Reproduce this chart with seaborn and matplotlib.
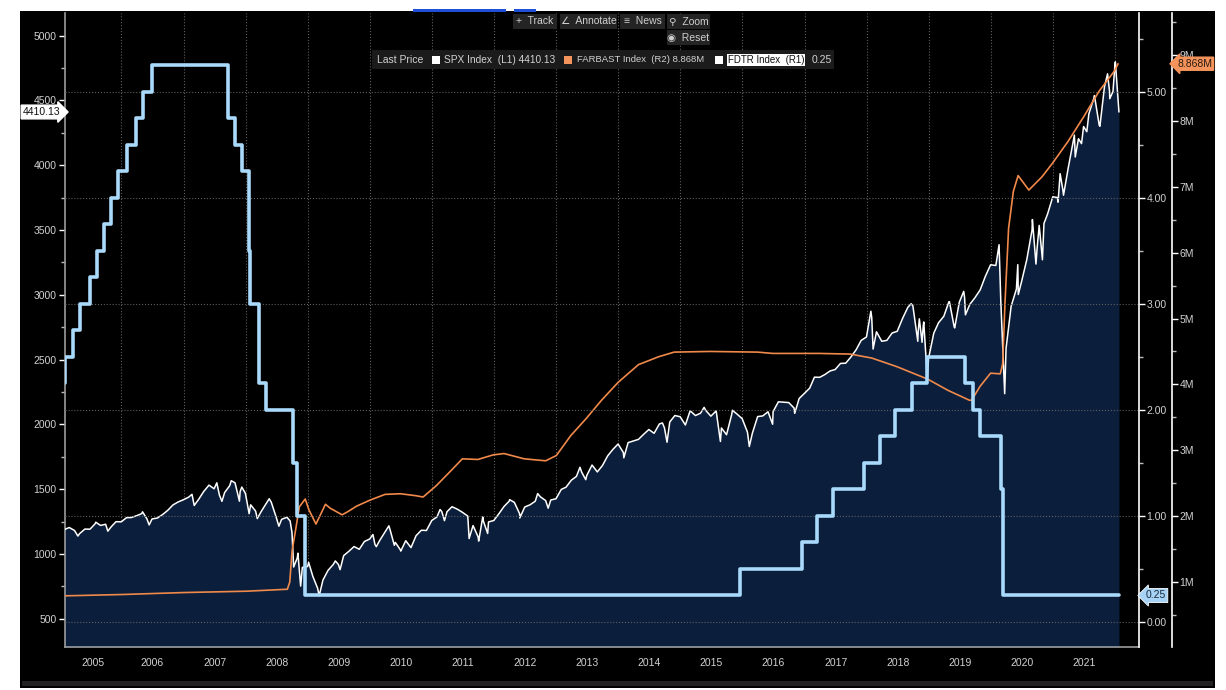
import matplotlib
matplotlib.use('Agg')
import matplotlib.pyplot as plt
import matplotlib.dates as mdates
import matplotlib.ticker as mticker
import matplotlib.transforms as mtransforms
from matplotlib.patches import Rectangle
import numpy as np
import pandas as pd
import seaborn as sns

sns.set_theme(style='dark')
plt.rcParams['font.family'] = ['Liberation Sans', 'DejaVu Sans']

# ---------------- data ----------------
# SPX month-end closes, Feb 2005 .. Dec 2021
spx_monthly = [
    1204, 1181, 1157, 1192, 1191, 1234, 1220, 1229, 1207, 1249, 1248,
    1280, 1281, 1295, 1311, 1270, 1270, 1277, 1304, 1336, 1378, 1401, 1418,
    1438, 1407, 1421, 1482, 1531, 1503, 1455, 1474, 1527, 1549, 1481, 1468,
    1379, 1331, 1323, 1386, 1400, 1280, 1267, 1283, 1166, 969, 896, 903,
    826, 735, 798, 873, 919, 919, 987, 1021, 1057, 1036, 1096, 1115,
    1074, 1104, 1169, 1187, 1089, 1031, 1102, 1049, 1141, 1183, 1181, 1258,
    1286, 1327, 1326, 1364, 1345, 1321, 1292, 1219, 1131, 1253, 1247, 1258,
    1312, 1366, 1408, 1398, 1310, 1362, 1379, 1407, 1441, 1412, 1416, 1426,
    1498, 1515, 1569, 1598, 1631, 1606, 1686, 1633, 1682, 1757, 1806, 1848,
    1783, 1859, 1872, 1884, 1924, 1960, 1931, 2003, 1972, 2018, 2068, 2059,
    1995, 2105, 2068, 2086, 2107, 2063, 2104, 1972, 1920, 2079, 2080, 2044,
    1940, 1932, 2060, 2065, 2097, 2099, 2174, 2171, 2168, 2126, 2199, 2239,
    2279, 2364, 2363, 2384, 2412, 2423, 2470, 2472, 2519, 2575, 2648, 2674,
    2824, 2714, 2641, 2648, 2705, 2718, 2816, 2902, 2914, 2712, 2760, 2507,
    2704, 2784, 2834, 2946, 2752, 2942, 2980, 2926, 2977, 3038, 3141, 3231,
    3226, 2954, 2585, 2912, 3044, 3100, 3271, 3500, 3363, 3270, 3622, 3756,
    3714, 3811, 3973, 4181, 4204, 4298, 4395, 4523, 4308, 4605, 4567, 4766,
]
spx_monthly_dates = pd.date_range('2005-02-28', '2021-12-31', freq='ME')

# intra-month highs / lows
spx_extra_dates = [
    '2005-02-01', '2005-04-20', '2005-08-03', '2005-10-13', '2006-05-05', '2006-06-13',
    '2007-02-20', '2007-03-05', '2007-07-16', '2007-08-15', '2007-10-09', '2007-11-26',
    '2007-12-10', '2008-01-22', '2008-03-10', '2008-05-19', '2008-07-15', '2008-09-19',
    '2008-10-10', '2008-11-04', '2008-11-20', '2009-01-06', '2009-03-09', '2009-06-12',
    '2009-07-10', '2010-01-19', '2010-02-08', '2010-04-23', '2010-05-25', '2010-07-02',
    '2011-02-18', '2011-03-16', '2011-04-29', '2011-08-08', '2011-10-03', '2011-10-27',
    '2011-11-25', '2012-04-02', '2012-06-01', '2012-09-14', '2012-11-15', '2013-05-21',
    '2013-06-24', '2014-02-03', '2014-09-18', '2014-10-15', '2015-05-21', '2015-08-25',
    '2015-11-03', '2016-02-11', '2016-06-27', '2016-11-04', '2018-01-26', '2018-02-08',
    '2018-09-20', '2018-10-29', '2018-11-07', '2018-11-23', '2018-12-03', '2018-12-24',
    '2019-05-03', '2019-06-03', '2019-07-26', '2019-08-05', '2020-02-19', '2020-03-23',
    '2020-06-08', '2020-06-11', '2020-09-02', '2020-09-23', '2020-10-12', '2020-11-09',
    '2021-01-27', '2021-02-12', '2021-03-04', '2021-05-07', '2021-05-12', '2021-06-18',
    '2021-07-19', '2021-09-02', '2021-10-04', '2021-11-18', '2021-12-01', '2021-12-20',
    '2022-01-03', '2022-01-24',
]
spx_extra_vals = [
    1189, 1138, 1245, 1176, 1325, 1224,
    1460, 1374, 1549, 1406, 1565, 1407,
    1516, 1311, 1273, 1426, 1214, 1255,
    899, 1006, 752, 935, 677, 946,
    879, 1150, 1056, 1217, 1067, 1022,
    1343, 1257, 1364, 1119, 1099, 1285,
    1158, 1419, 1278, 1466, 1353, 1669,
    1573, 1742, 2011, 1862, 2131, 1868,
    2109, 1829, 2001, 2085, 2873, 2581,
    2931, 2641, 2814, 2633, 2790, 2351,
    2946, 2744, 3026, 2845, 3386, 2237,
    3232, 3002, 3580, 3237, 3535, 3550,
    3750, 3934, 3768, 4232, 4063, 4166,
    4258, 4537, 4300, 4705, 4513, 4568,
    4797, 4410.13,
]

# Fed balance sheet total assets (FARBAST), in M (million of $mn)
fb_dates = [
    '2005-02-02', '2006-01-04', '2007-01-03', '2008-01-02', '2008-09-03', '2008-09-17',
    '2008-10-01', '2008-10-22', '2008-11-12', '2008-12-17', '2009-01-07', '2009-02-18',
    '2009-04-15', '2009-05-13', '2009-06-10', '2009-07-22', '2009-08-26', '2009-10-14',
    '2009-12-30', '2010-03-31', '2010-06-30', '2010-09-29', '2010-11-10', '2011-01-26',
    '2011-04-27', '2011-06-29', '2011-09-28', '2011-12-28', '2012-02-29', '2012-06-27',
    '2012-10-31', '2013-01-02', '2013-03-27', '2013-06-26', '2013-09-25', '2013-12-31',
    '2014-04-30', '2014-08-27', '2014-11-26', '2015-06-24', '2016-03-30', '2016-06-29',
    '2017-03-29', '2017-09-27', '2018-01-31', '2018-06-27', '2018-12-26', '2019-04-24',
    '2019-08-28', '2019-09-11', '2019-10-30', '2019-12-31', '2020-02-26', '2020-03-11',
    '2020-03-25', '2020-04-15', '2020-05-13', '2020-06-10', '2020-08-12', '2020-10-28',
    '2020-12-30', '2021-03-31', '2021-06-30', '2021-09-29', '2021-12-29', '2022-01-19',
]
fb_vals = [
    0.79, 0.81, 0.84, 0.86, 0.89, 1.00,
    1.48, 1.80, 2.14, 2.26, 2.10, 1.88,
    2.18, 2.12, 2.08, 2.02, 2.07, 2.15,
    2.24, 2.33, 2.34, 2.31, 2.29, 2.46,
    2.70, 2.87, 2.86, 2.93, 2.95, 2.87,
    2.84, 2.92, 3.22, 3.48, 3.76, 4.03,
    4.30, 4.42, 4.49, 4.50, 4.49, 4.47,
    4.47, 4.46, 4.40, 4.27, 4.08, 3.91,
    3.76, 3.76, 3.97, 4.17, 4.16, 4.31,
    5.25, 6.37, 6.93, 7.17, 6.95, 7.15,
    7.36, 7.69, 8.06, 8.45, 8.76, 8.868,
]

# Fed funds target upper bound (FDTR)
fd_dates = [
    '2005-02-01', '2005-02-02', '2005-03-22', '2005-05-03', '2005-06-30', '2005-08-09',
    '2005-09-20', '2005-11-01', '2005-12-13', '2006-01-31', '2006-03-28', '2006-05-10',
    '2006-06-29', '2007-09-18', '2007-10-31', '2007-12-11', '2008-01-22', '2008-01-30',
    '2008-03-18', '2008-04-30', '2008-10-08', '2008-10-29', '2008-12-16', '2015-12-17',
    '2016-12-15', '2017-03-16', '2017-06-15', '2017-12-14', '2018-03-22', '2018-06-14',
    '2018-09-27', '2018-12-20', '2019-08-01', '2019-09-19', '2019-10-31', '2020-03-04',
    '2020-03-16', '2022-01-24',
]
fd_vals = [
    2.25, 2.50, 2.75, 3.00, 3.25, 3.50,
    3.75, 4.00, 4.25, 4.50, 4.75, 5.00,
    5.25, 4.75, 4.50, 4.25, 3.50, 3.00,
    2.25, 2.00, 1.50, 1.00, 0.25, 0.50,
    0.75, 1.00, 1.25, 1.50, 1.75, 2.00,
    2.25, 2.50, 2.25, 2.00, 1.75, 1.25,
    0.25, 0.25,
]

years = list(range(2005, 2022))

spx = pd.concat([
    pd.Series(spx_monthly, index=spx_monthly_dates),
    pd.Series(spx_extra_vals, index=pd.to_datetime(spx_extra_dates)),
]).sort_index()
spx_df = pd.DataFrame({'date': spx.index, 'value': spx.values})
fb_df = pd.DataFrame({'date': pd.to_datetime(fb_dates), 'value': fb_vals})
fd_df = pd.DataFrame({'date': pd.to_datetime(fd_dates), 'value': fd_vals})

spx_last = spx_df['value'].iloc[-1]
fb_last = fb_df['value'].iloc[-1]
fd_last = fd_df['value'].iloc[-1]

# ---------------- figure ----------------
W, H = 1226, 690
fig = plt.figure(figsize=(W / 100, H / 100), dpi=100, facecolor='white')


def fx(px):
    return px / W


def fy(py):
    return 1 - py / H


fig.add_artist(Rectangle((fx(20), fy(688)), fx(1215) - fx(20), fy(11) - fy(688),
                         transform=fig.transFigure, fc='black', ec='none', zorder=-10))
fig.add_artist(Rectangle((fx(22), fy(686)), fx(1213) - fx(22), fy(681) - fy(686),
                         transform=fig.transFigure, fc='#222222', ec='none', zorder=-9))

ax = fig.add_axes([fx(65), fy(647), fx(1139) - fx(65), fy(13) - fy(647)])
ax.set_facecolor('black')

navy = '#0b1f3d'
white_line = '#ffffff'
orange = '#f0894a'
blue = '#a9d9fb'
grid_c = '#5e5e5e'
lab_c = '#d2d2d2'

# SPX area + line (left axis)
ax.fill_between(spx_df['date'], 0, spx_df['value'], color=navy, lw=0, zorder=1)
sns.lineplot(data=spx_df, x='date', y='value', ax=ax, color=white_line, lw=1.1,
             estimator=None, sort=False, zorder=3)

xmin, xmax = pd.Timestamp('2005-02-03'), pd.Timestamp('2022-05-22')
ax.set_xlim(xmin, xmax)
ax.set_ylim(282, 5174)
ax.set_xlabel('')
ax.set_ylabel('')

ax.yaxis.set_major_locator(mticker.MultipleLocator(500))
ax.yaxis.set_minor_locator(mticker.MultipleLocator(250))
ax.yaxis.set_major_formatter(mticker.FuncFormatter(lambda v, p: f'{v:.0f}'))
ax.tick_params(axis='y', which='major', direction='out', length=4, width=1,
               color='white', labelcolor=lab_c, labelsize=7.5, pad=2)
ax.tick_params(axis='y', which='minor', direction='out', length=3, width=1, color='#bbbbbb')

ax.xaxis.set_major_locator(mdates.YearLocator())
ax.xaxis.set_major_formatter(mticker.NullFormatter())
ax.xaxis.set_minor_locator(mdates.MonthLocator(bymonth=[4, 7, 10]))
ax.tick_params(axis='x', which='major', direction='out', length=19.5, width=1.2,
               color='#8a8a8a')
ax.tick_params(axis='x', which='minor', direction='out', length=2.5, width=1,
               color='#cfcfcf')
ax.grid(axis='x', which='major', color=grid_c, ls=':', lw=0.8)
ax.grid(axis='y', visible=False)

for s in ['top', 'right']:
    ax.spines[s].set_visible(False)
for s in ['left', 'bottom']:
    ax.spines[s].set_visible(True)
    ax.spines[s].set_color('#9c9c9c')
    ax.spines[s].set_linewidth(1.2)

trans_x = mtransforms.blended_transform_factory(ax.transData, ax.transAxes)
for yr in years:
    x0 = max(pd.Timestamp(f'{yr}-01-01'), xmin)
    x1 = pd.Timestamp(f'{yr + 1}-01-01')
    mid = mdates.date2num(x0) + (mdates.date2num(x1) - mdates.date2num(x0)) / 2
    ax.text(mid, -0.026, str(yr), transform=trans_x, ha='center', va='center',
            fontsize=7.5, color=lab_c)

# FARBAST (second right axis, offset)
ax_fb = ax.twinx()
sns.lineplot(data=fb_df, x='date', y='value', ax=ax_fb, color=orange, lw=1.2,
             estimator=None, sort=False)
ax_fb.set_ylim(0.0133, 9.638)
ax_fb.set_ylabel('')
ax_fb.spines['right'].set_position(('axes', 1 + 33 / 1074))
ax_fb.yaxis.set_major_locator(mticker.MultipleLocator(1))
ax_fb.yaxis.set_minor_locator(mticker.MultipleLocator(0.5))
ax_fb.yaxis.set_major_formatter(mticker.FuncFormatter(lambda v, p: f'{v:.0f}M'))
ax_fb.tick_params(axis='y', which='major', direction='out', length=4, width=1,
                  color='white', labelcolor=lab_c, labelsize=7.5, pad=1.5)
ax_fb.tick_params(axis='y', which='minor', direction='out', length=3, width=1, color='#bbbbbb')
ax_fb.grid(False)

# FDTR (first right axis)
ax_fd = ax.twinx()
sns.lineplot(data=fd_df, x='date', y='value', ax=ax_fd, color=blue, lw=2.6,
             estimator=None, sort=False, drawstyle='steps-post', zorder=4)
ax_fd.set_ylim(-0.236, 5.745)
ax_fd.set_ylabel('')
ax_fd.yaxis.set_major_locator(mticker.MultipleLocator(1))
ax_fd.yaxis.set_minor_locator(mticker.MultipleLocator(0.5))
ax_fd.yaxis.set_major_formatter(mticker.FuncFormatter(lambda v, p: f'{v:.2f}'))
ax_fd.tick_params(axis='y', which='major', direction='out', length=4, width=1,
                  color='white', labelcolor=lab_c, labelsize=7.5, pad=1.5)
ax_fd.tick_params(axis='y', which='minor', direction='out', length=3, width=1, color='#bbbbbb')
ax_fd.grid(axis='y', which='major', color=grid_c, ls=':', lw=0.8)
ax_fd.set_xlim(xmin, xmax)

for a in (ax_fb, ax_fd):
    for s in ['top', 'left', 'bottom']:
        a.spines[s].set_visible(False)
    a.spines['right'].set_visible(True)
    a.spines['right'].set_color('white')
    a.spines['right'].set_linewidth(1.2)
    a.patch.set_visible(False)

# last-value tags
ax.text(-0.004, spx_last, f'{spx_last:.2f}',
        transform=mtransforms.blended_transform_factory(ax.transAxes, ax.transData),
        ha='right', va='center', fontsize=7.5, color='#111111',
        bbox=dict(boxstyle='rarrow,pad=0.18', fc='white', ec='white'))
ax_fd.text(1.006, fd_last, f'{fd_last:.2f}',
           transform=mtransforms.blended_transform_factory(ax_fd.transAxes, ax_fd.transData),
           ha='left', va='center', fontsize=7.5, color='#1a2a3a',
           bbox=dict(boxstyle='larrow,pad=0.2', fc='#a6d3f6', ec='white', lw=0.6))
ax_fb.text(1 + 38 / 1074, fb_last, f'{fb_last:.3f}M',
           transform=mtransforms.blended_transform_factory(ax_fb.transAxes, ax_fb.transData),
           ha='left', va='center', fontsize=7.5, color='#2a1a10',
           bbox=dict(boxstyle='larrow,pad=0.15', fc='#f4935b', ec='#f4935b'))

# ---------------- terminal chrome: tabs, toolbar, legend ----------------
for x0, x1 in [(413, 506), (514, 536)]:
    fig.add_artist(Rectangle((fx(x0), fy(12)), fx(x1) - fx(x0), fy(9) - fy(12),
                             transform=fig.transFigure, fc='#1f4fd6', ec='none'))

buttons = [('+  Track', 513, 557, 14, 29), ('∠  Annotate', 560, 617, 14, 29),
           ('≡  News', 620, 665, 14, 29), ('⚲  Zoom', 667, 710, 14, 29),
           ('◉  Reset', 667, 710, 30, 45)]
for label, x0, x1, y0, y1 in buttons:
    fig.add_artist(Rectangle((fx(x0), fy(y1)), fx(x1) - fx(x0), fy(y0) - fy(y1),
                             transform=fig.transFigure, fc='#242424', ec='none', zorder=5))
    fig.text(fx((x0 + x1) / 2), fy((y0 + y1) / 2), label, ha='center', va='center',
             fontsize=7.5, color='#cfcfcf', zorder=6)

fig.add_artist(Rectangle((fx(372), fy(69)), fx(834) - fx(372), fy(50) - fy(69),
                         transform=fig.transFigure, fc='#1b1b1b', ec='none', zorder=5))
ly = fy(60)
fig.text(fx(377), ly, 'Last Price', ha='left', va='center', fontsize=7.5, color=lab_c, zorder=6)
for x0, c in [(432, 'white'), (564, '#f4935b'), (715, 'white')]:
    fig.add_artist(Rectangle((fx(x0), fy(64)), fx(8), fy(56) - fy(64),
                             transform=fig.transFigure, fc=c, ec='none', zorder=6))
fig.text(fx(444), ly, f'SPX Index  (L1) {spx_last:.2f}', ha='left', va='center',
         fontsize=7.3, color=lab_c, zorder=6)
fig.text(fx(577), ly, f'FARBAST Index  (R2) {fb_last:.3f}M', ha='left', va='center',
         fontsize=6.8, color=lab_c, zorder=6)
fig.text(fx(728), ly, 'FDTR Index  (R1)', ha='left', va='center', fontsize=7.0,
         color='#111111', zorder=6,
         bbox=dict(boxstyle='square,pad=0.1', fc='white', ec='none'))
fig.text(fx(812), ly, f'{fd_last:.2f}', ha='left', va='center', fontsize=7.5,
         color=lab_c, zorder=6)

fig.savefig('out.png', dpi=100, facecolor=fig.get_facecolor())
